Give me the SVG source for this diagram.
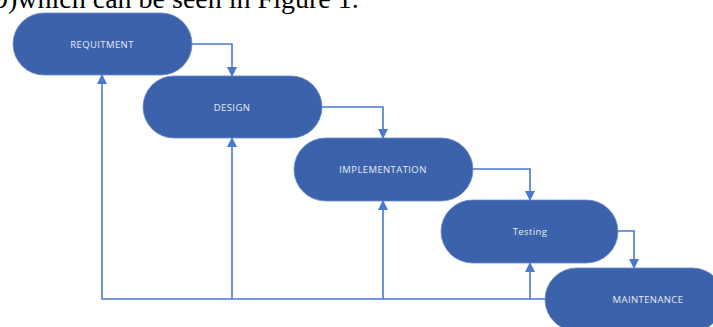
<svg xmlns="http://www.w3.org/2000/svg" width="713" height="327" viewBox="0 0 713 327">
<style>
.node{fill:#3B62AA;stroke:#6A8BC8;stroke-width:0.8}
.lbl{font-family:"Open Sans","Liberation Sans",sans-serif;font-size:9.5px;fill:#E6ECF6;text-anchor:middle;dominant-baseline:central;letter-spacing:0.4px}
.con{fill:none;stroke:#4A78CC;stroke-width:1.6}
.top{font-family:"Liberation Serif",serif;font-size:28px;fill:#000}
</style>
<defs>
<marker id="ah" viewBox="0 0 10 10" refX="9" refY="5" markerWidth="10" markerHeight="10" orient="auto" markerUnits="userSpaceOnUse">
<path d="M0,0 L10,5 L0,10 z" fill="#4A78CC"/>
</marker>
</defs>
<rect width="713" height="327" fill="#fff"/>
<text class="top" x="-6" y="8">9)which can be seen in Figure 1.</text>
<g id="connectors">
<path class="con" d="M192,44 H232 V76" marker-end="url(#ah)"/>
<path class="con" d="M322,107 H383 V138" marker-end="url(#ah)"/>
<path class="con" d="M473,169 H530 V200" marker-end="url(#ah)"/>
<path class="con" d="M618,231 H634 V268" marker-end="url(#ah)"/>
<path class="con" d="M545,299 H102 V75" marker-end="url(#ah)"/>
<path class="con" d="M232,299 V138" marker-end="url(#ah)"/>
<path class="con" d="M383,299 V201" marker-end="url(#ah)"/>
<path class="con" d="M530,299 V263" marker-end="url(#ah)"/>
</g>
<g id="requitment">
<rect class="node" x="13" y="13" width="179" height="62" rx="31"/>
<text class="lbl" x="102" y="44">REQUITMENT</text>
</g>
<g id="design">
<rect class="node" x="143" y="76" width="179" height="62" rx="31"/>
<text class="lbl" x="232" y="107">DESIGN</text>
</g>
<g id="implementation">
<rect class="node" x="294" y="138" width="179" height="63" rx="31.5"/>
<text class="lbl" x="383" y="169">IMPLEMENTATION</text>
</g>
<g id="testing">
<rect class="node" x="441" y="200" width="177" height="63" rx="31.5"/>
<text class="lbl" x="530" y="231">Testing</text>
</g>
<g id="maintenance">
<rect class="node" x="545" y="268" width="179" height="63" rx="31.5"/>
<text class="lbl" x="648" y="299">MAINTENANCE</text>
</g>
</svg>
